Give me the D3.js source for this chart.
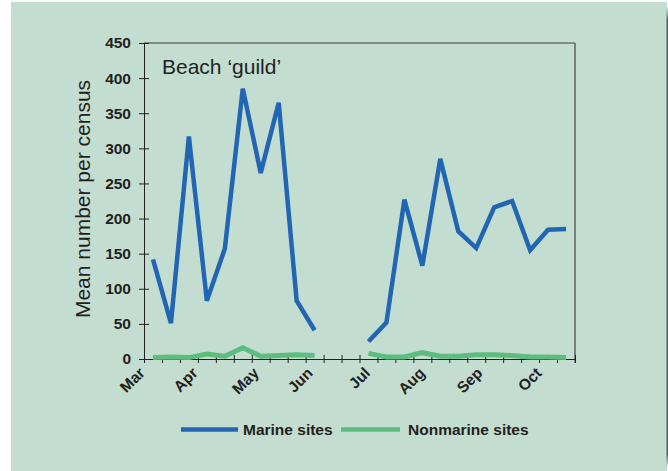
<!DOCTYPE html>
<html>
<head>
<meta charset="utf-8">
<script src="https://cdn.jsdelivr.net/npm/d3@7"></script>
<style>
  html, body { margin: 0; padding: 0; background: #ffffff; }
  svg { display: block; }
  text { font-family: "Liberation Sans", Arial, sans-serif; fill: #231f20; }
</style>
</head>
<body>
<svg id="chart" width="668" height="471"></svg>
<script>
// ---- data ----
const censusCount = 24;
const marineValues = [142, 51, 317, 83, 157, 385, 265, 365, 83, 41, null, null,
                      25, 52, 227, 133, 285, 182, 158, 216, 225, 155, 184, 185];
const nonmarineValues = [2, 3, 2, 7, 4, 16, 4, 5, 6, 5, null, null,
                         8, 3, 3, 9, 4, 4, 6, 6, 5, 3, 3, 2];
const monthLabels = ["Mar", "Apr", "May", "Jun", "Jul", "Aug", "Sep", "Oct"];
const monthPositions = [0.1, 3.05, 6.45, 9.45, 12.65, 15.7, 18.9, 22.2];
const yTicks = [0, 50, 100, 150, 200, 250, 300, 350, 400, 450];
const seriesNames = ["Marine sites", "Nonmarine sites"];
const seriesColors = ["#2266b3", "#5cbd7e"];
const titleText = "Beach \u2018guild\u2019";
const yTitle = "Mean number per census";

(function () {
// ---- layout ----
const svg = d3.select("#chart");
const pLeft = 144, pRight = 575, pTop = 43, pBottom = 359;

// panel background
svg.append("rect").attr("x", 11).attr("y", 2).attr("width", 656).attr("height", 469)
  .attr("fill", "#c4ddd1");
// right shadow edge
const defs = svg.append("defs");
const grad = defs.append("linearGradient").attr("id", "shadowGrad")
  .attr("x1", 0).attr("y1", 0).attr("x2", 0).attr("y2", 1);
grad.append("stop").attr("offset", "0").attr("stop-color", "#5a5a5a").attr("stop-opacity", 0);
grad.append("stop").attr("offset", "0.03").attr("stop-color", "#5a5a5a").attr("stop-opacity", 1);
grad.append("stop").attr("offset", "0.97").attr("stop-color", "#5a5a5a").attr("stop-opacity", 1);
grad.append("stop").attr("offset", "1").attr("stop-color", "#5a5a5a").attr("stop-opacity", 0);
svg.append("rect").attr("x", 666.5).attr("y", 6).attr("width", 1.5).attr("height", 462)
  .attr("fill", "url(#shadowGrad)");

const x = d3.scaleLinear().domain([0, censusCount]).range([pLeft, pRight]);
const y = d3.scaleLinear().domain([0, 450]).range([pBottom, pTop]);

// frame (top and right)
svg.append("line").attr("x1", x(0)).attr("x2", x(censusCount))
  .attr("y1", y(450)).attr("y2", y(450))
  .attr("stroke", "#3c3c3c").attr("stroke-width", 1);
svg.append("line").attr("x1", x(censusCount)).attr("x2", x(censusCount))
  .attr("y1", y(450)).attr("y2", y(0) + 4)
  .attr("stroke", "#5f5f5f").attr("stroke-width", 1.5);

// y axis
const yAxis = svg.append("g").attr("transform", `translate(${pLeft},0)`)
  .call(d3.axisLeft(y).tickValues(yTicks).tickSizeInner(5).tickSizeOuter(0).tickPadding(8));
yAxis.select(".domain").attr("stroke", "#231f20");
yAxis.selectAll(".tick line").attr("x1", -5).attr("x2", 5).attr("stroke", "#231f20");
yAxis.selectAll(".tick text")
  .style("font-family", "'Liberation Sans', Arial, sans-serif")
  .style("font-size", "15.5px").style("font-weight", "bold").attr("fill", "#231f20");

// x axis
const xAxis = svg.append("g").attr("transform", `translate(0,${pBottom})`)
  .call(d3.axisBottom(x).tickValues(d3.range(censusCount + 1)).tickFormat("")
    .tickSizeInner(4).tickSizeOuter(0));
xAxis.select(".domain").attr("stroke", "#231f20");
xAxis.selectAll(".tick line").attr("y1", -4).attr("y2", 4).attr("stroke", "#231f20");

// month labels
svg.append("g").selectAll("text").data(monthLabels).join("text")
  .attr("transform", (d, i) => `translate(${x(monthPositions[i])},${pBottom + 15}) rotate(-45)`)
  .attr("text-anchor", "end")
  .style("font-size", "15.5px").style("font-weight", "bold")
  .text(d => d);

// lines
const line = d3.line()
  .defined(d => d != null)
  .x((d, i) => x(i + 0.5))
  .y(d => y(d));

[marineValues, nonmarineValues].forEach((vals, k) => {
  svg.append("path")
    .datum(vals)
    .attr("fill", "none")
    .attr("stroke", seriesColors[k])
    .attr("stroke-width", k === 0 ? 4.5 : 5)
    .attr("stroke-linejoin", "miter")
    .attr("stroke-miterlimit", 2)
    .attr("d", line);
});

// chart title inside plot
svg.append("text").attr("x", 162).attr("y", 74)
  .style("font-size", "21px").text(titleText);

// y axis title
svg.append("text")
  .attr("transform", `translate(90,${(pTop + pBottom) / 2 - 2}) rotate(-90)`)
  .attr("text-anchor", "middle")
  .style("font-size", "21px").text(yTitle);

// legend
const legendItems = [
  { name: seriesNames[0], color: seriesColors[0], x0: 181, x1: 238, tx: 243 },
  { name: seriesNames[1], color: seriesColors[1], x0: 341, x1: 400, tx: 408 }
];
const lg = svg.append("g");
legendItems.forEach(it => {
  lg.append("line").attr("x1", it.x0).attr("x2", it.x1).attr("y1", 429.5).attr("y2", 429.5)
    .attr("stroke", it.color).attr("stroke-width", 4.5);
  lg.append("text").attr("x", it.tx).attr("y", 434.5)
    .style("font-size", "15.5px").style("font-weight", "bold").text(it.name);
});
})();
</script>
</body>
</html>
